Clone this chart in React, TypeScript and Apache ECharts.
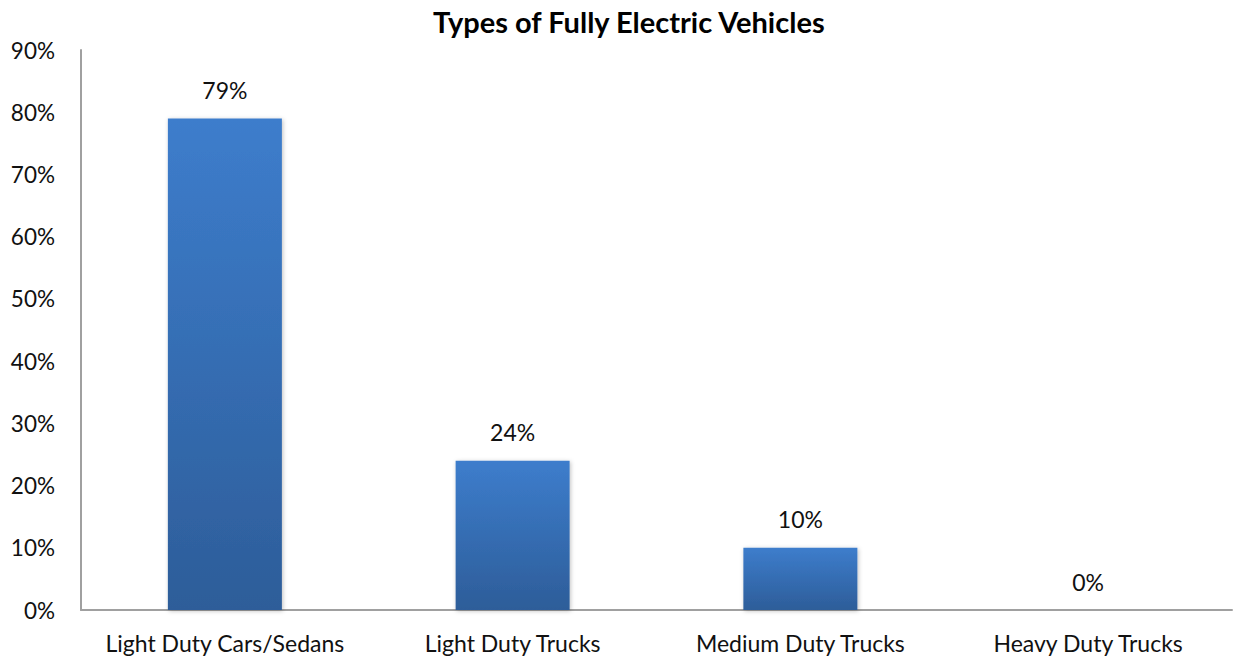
import React, { useEffect, useRef } from "react";
import * as echarts from "echarts";

const categories = ["Light Duty Cars/Sedans", "Light Duty Trucks", "Medium Duty Trucks", "Heavy Duty Trucks"];
const values = [79, 24, 10, 0];
const yTicks = [0, 10, 20, 30, 40, 50, 60, 70, 80, 90];
const title = "Types of Fully Electric Vehicles";

export default function App() {
  const ref = useRef<HTMLDivElement>(null);
  useEffect(() => {
    if (!ref.current) return;
    const chart = echarts.init(ref.current, null, { renderer: "svg" });
    const font = "Lato, 'Open Sans', sans-serif";
    chart.setOption({
      animation: false,
      backgroundColor: "#ffffff",
      title: {
        text: title,
        left: 428,
        top: 2,
        textStyle: { fontFamily: font, fontWeight: "bold", fontSize: 29, color: "#000" },
      },
      grid: { left: 81, right: 3, top: 50, bottom: 51, containLabel: false },
      xAxis: {
        type: "category",
        data: categories,
        axisLine: { lineStyle: { color: "#a0a0a0", width: 2 } },
        axisTick: { show: false },
        axisLabel: { fontFamily: font, fontSize: 23, color: "#111", margin: 21, interval: 0, hideOverlap: false },
      },
      yAxis: {
        type: "value",
        min: yTicks[0],
        max: yTicks[yTicks.length - 1],
        interval: 10,
        axisLine: { show: true, lineStyle: { color: "#a0a0a0", width: 2 } },
        axisTick: { show: false },
        splitLine: { show: false },
        axisLabel: { fontFamily: font, fontSize: 22.5, color: "#111", margin: 26, formatter: "{value}%" },
      },
      series: [
        {
          type: "bar",
          data: values,
          barWidth: 114,
          itemStyle: {
            color: new echarts.graphic.LinearGradient(0, 0, 0, 1, [
              { offset: 0, color: "#3d7dcc" },
              { offset: 1, color: "#2d5d99" },
            ]),
            shadowColor: "rgba(0,0,0,0.25)",
            shadowBlur: 4,
            shadowOffsetX: 1,
            shadowOffsetY: 1,
          },
          label: {
            show: true,
            position: "top",
            distance: 17,
            formatter: "{c}%",
            fontFamily: font,
            fontSize: 23,
            color: "#111",
          },
        },
      ],
    });
    return () => chart.dispose();
  }, []);
  return <div ref={ref} style={{ position: "fixed", left: 0, top: 0, width: 1235, height: 661 }} />;
}
